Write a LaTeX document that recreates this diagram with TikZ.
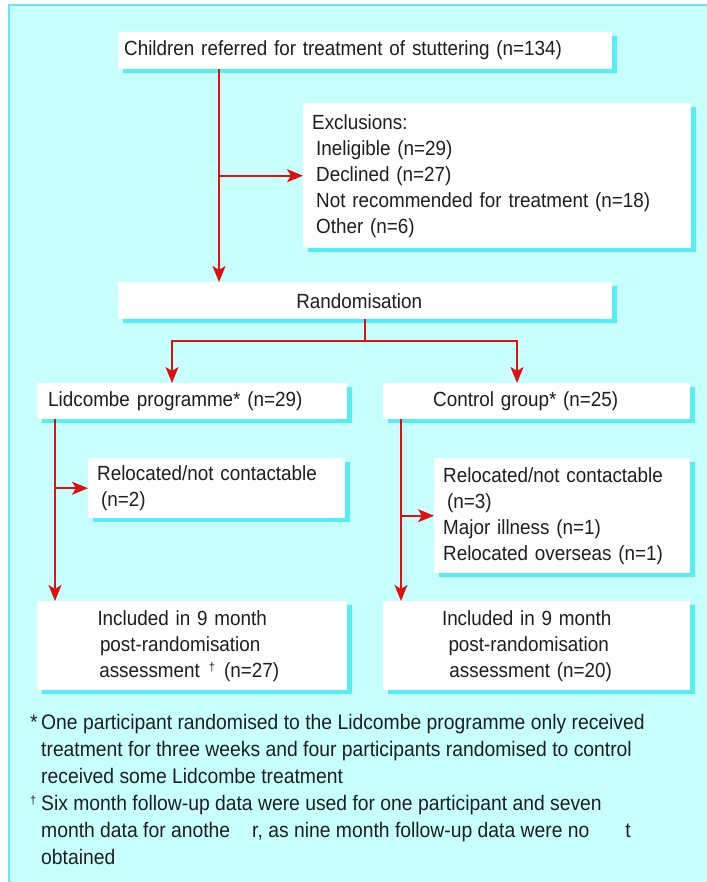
\documentclass[tikz,border=0pt]{standalone}
\usepackage{fontspec}
\setmainfont{Liberation Sans}[FakeStretch=0.92]
\usetikzlibrary{arrows.meta,shadows}
\definecolor{bgc}{HTML}{C8FFFF}
\definecolor{framec}{HTML}{6FE3EC}
\definecolor{shadc}{HTML}{55EEF4}
\definecolor{arrc}{HTML}{E01010}
\definecolor{txtc}{HTML}{1E1E1E}
\newcommand{\smdag}{\raisebox{6pt}{\fontsize{12}{12}\selectfont †}}
\newcommand{\pad}[1]{\rule{#1}{0pt}}
\begin{document}
\begin{tikzpicture}[x=1pt,y=-1pt,
  txt/.style={font=\fontsize{20.5}{26}\selectfont, text=txtc},
  box/.style={txt, fill=white, draw=none, anchor=north west, inner ysep=0pt,
    drop shadow={shadow xshift=5pt,shadow yshift=-4pt,fill=shadc,opacity=1}},
  arr/.style={draw=arrc, line width=2pt, -{Stealth[length=16pt,width=13pt,inset=4pt]}},
  ln/.style={draw=arrc, line width=2pt}]
\useasboundingbox (0,0) rectangle (706,882);
\fill[bgc] (9,5) rectangle (720,900);
\draw[framec, line width=1.5pt] (9,900) -- (9,5) -- (720,5);

\node[box, minimum width=494pt, minimum height=37pt, inner xsep=6pt, text width=482pt, align=left] (top) at (118,32)
  {Children referred for treatment of stuttering (n=134)};
\node[box, minimum width=388pt, minimum height=145pt, inner xsep=9pt, text width=370pt, align=left] (excl) at (303,103)
  {Exclusions:\\\hspace*{4pt}Ineligible (n=29)\\\hspace*{4pt}Declined (n=27)\\\hspace*{4pt}Not recommended for treatment (n=18)\\\hspace*{4pt}Other (n=6)};
\node[box, minimum width=494pt, minimum height=37pt, inner xsep=6pt, text width=482pt, align=center] (rand) at (118,282)
  {Randomisation\pad{12pt}};
\node[box, minimum width=310pt, minimum height=36pt, inner xsep=11pt, text width=288pt, align=left] (lid) at (37,383)
  {Lidcombe programme* (n=29)};
\node[box, minimum width=307pt, minimum height=36pt, inner xsep=50pt, text width=207pt, align=left] (ctrl) at (383,383)
  {Control group* (n=25)};
\node[box, minimum width=257pt, minimum height=60pt, inner xsep=9pt, text width=239pt, align=left] (relL) at (88,458)
  {Relocated/not contactable\\\hspace*{4pt}(n=2)};
\node[box, minimum width=256pt, minimum height=115pt, inner xsep=9pt, text width=238pt, align=left] (relR) at (434,458)
  {Relocated/not contactable\\\hspace*{4pt}(n=3)\\Major illness (n=1)\\Relocated overseas (n=1)};
\node[box, minimum width=310pt, minimum height=89pt, inner xsep=5pt, text width=300pt, align=center] (incL) at (37,601)
  {Included in 9 month\pad{20pt}\\post-randomisation\pad{24pt}\\assessment\hspace{9pt}\smdag\hspace{9pt}(n=27)\pad{6pt}};
\node[box, minimum width=307pt, minimum height=89pt, inner xsep=5pt, text width=297pt, align=center] (incR) at (383,601)
  {Included in 9 month\pad{20pt}\\post-randomisation\pad{16pt}\\assessment (n=20)\pad{12pt}};

\node[txt, font=\fontsize{21}{27}\selectfont, anchor=north west, inner sep=0pt] (notes) at (30,710)
  {\begin{tabular}{@{}p{11pt}@{}l@{}}
   * & One participant randomised to the Lidcombe programme only received\\
     & treatment for three weeks and four participants randomised to control\\
     & received some Lidcombe treatment\\
   \smdag & Six month follow-up data were used for one participant and seven\\
     & month data for anothe\hspace{22pt}r, as nine month follow-up data were no\hspace{36pt}t\\
     & obtained
   \end{tabular}};

% connectors
\coordinate (c1) at (219,0);
\coordinate (c2) at (55,0);
\coordinate (c3) at (401,0);
\coordinate (jL) at (172,341);
\coordinate (jR) at (517,341);
\draw[arr] (c1 |- top.south) -- (c1 |- rand.north);
\draw[arr] (c1 |- excl.west) -- (excl.west);
\draw[arr] (rand.south) |- (jL) -- (jL |- lid.north);
\draw[arr] (rand.south) |- (jR) -- (jR |- ctrl.north);
\draw[arr] (c2 |- lid.south) -- (c2 |- incL.north);
\draw[arr] (c2 |- relL.west) -- (relL.west);
\draw[arr] (c3 |- ctrl.south) -- (c3 |- incR.north);
\draw[arr] (c3 |- relR.west) -- (relR.west);
\end{tikzpicture}
\end{document}
